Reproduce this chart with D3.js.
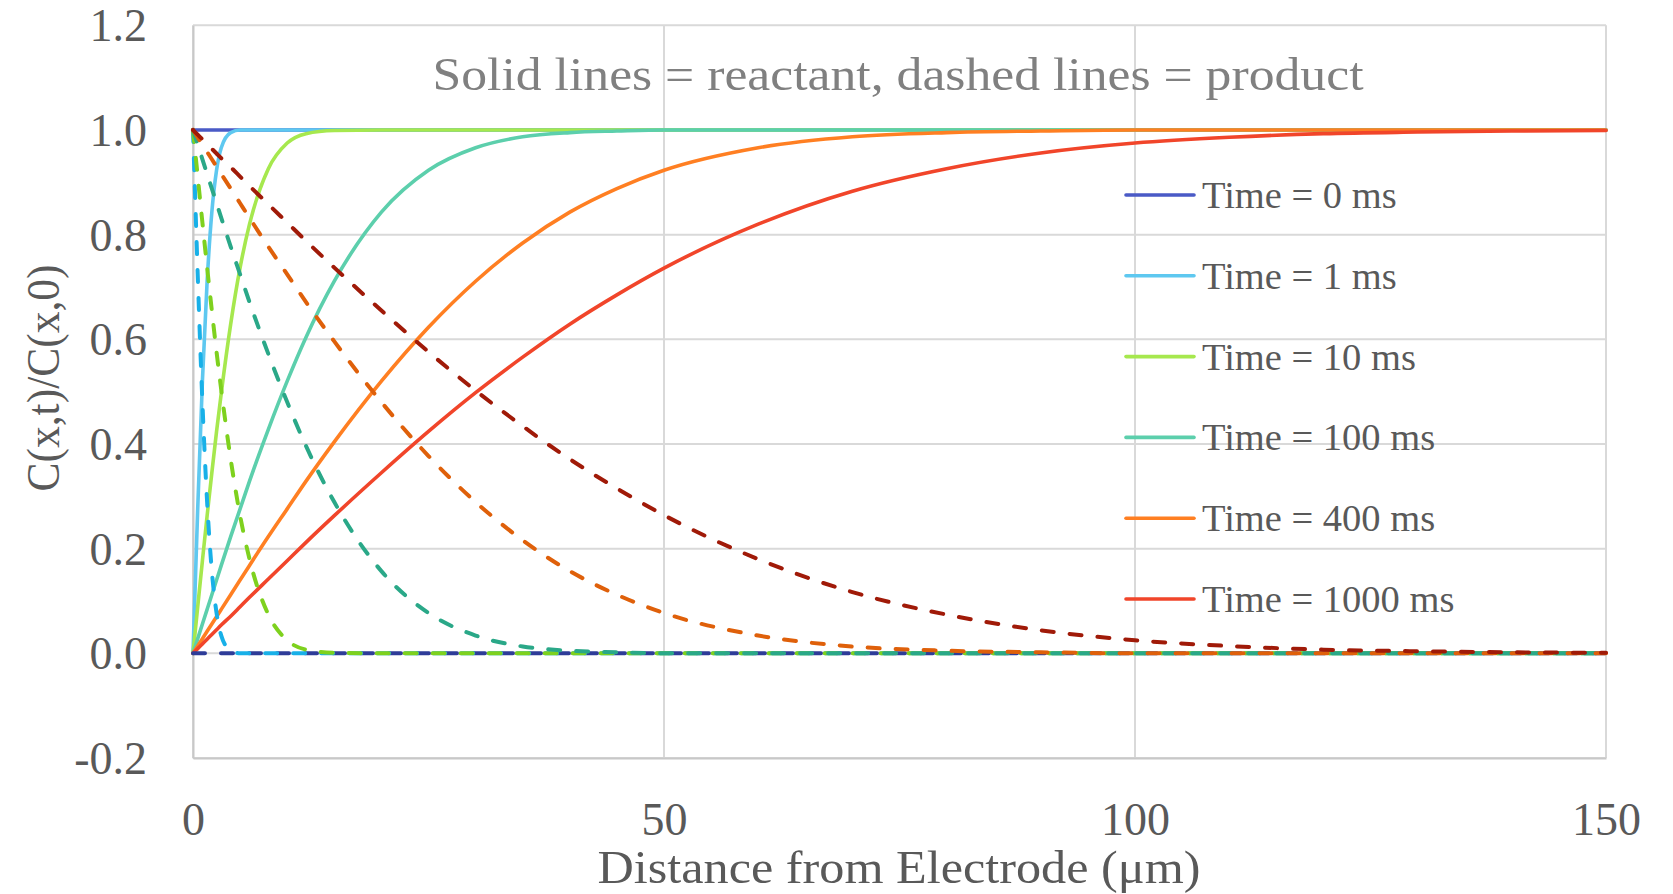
<!DOCTYPE html>
<html>
<head>
<meta charset="utf-8">
<script src="https://cdn.jsdelivr.net/npm/d3@7"></script>
<style>
  html, body { margin: 0; padding: 0; background: #ffffff; }
  svg { display: block; }
  text { font-family: "Liberation Serif", "DejaVu Serif", serif; }
</style>
</head>
<body>
<svg id="chart" width="1673" height="894"></svg>
<script>
// Distance from the electrode surface (µm) at which each profile is sampled
const distance = [0, 0.5, 1, 1.5, 2, 2.5, 3, 4, 5, 6, 8, 10, 12, 15, 20, 25, 30, 35, 40, 45, 50, 60, 70, 80, 90, 100, 110, 120, 130, 140, 150];

// Reactant concentration profiles C(x,t)/C(x,0)
const reactant0    = [1, 1, 1, 1, 1, 1, 1, 1, 1, 1, 1, 1, 1, 1, 1, 1, 1, 1, 1, 1, 1, 1, 1, 1, 1, 1, 1, 1, 1, 1, 1];
const reactant1    = [0, 0.276, 0.521, 0.711, 0.843, 0.923, 0.966, 0.995, 1, 1, 1, 1, 1, 1, 1, 1, 1, 1, 1, 1, 1, 1, 1, 1, 1, 1, 1, 1, 1, 1, 1];
const reactant10   = [0, 0.089, 0.177, 0.263, 0.345, 0.424, 0.497, 0.629, 0.737, 0.820, 0.926, 0.975, 0.993, 0.999, 1, 1, 1, 1, 1, 1, 1, 1, 1, 1, 1, 1, 1, 1, 1, 1, 1];
const reactant100  = [0, 0.028, 0.056, 0.084, 0.112, 0.140, 0.168, 0.223, 0.276, 0.329, 0.428, 0.520, 0.604, 0.711, 0.843, 0.923, 0.966, 0.987, 0.995, 0.998, 1, 1, 1, 1, 1, 1, 1, 1, 1, 1, 1];
const reactant400  = [0, 0.014, 0.028, 0.042, 0.056, 0.070, 0.084, 0.112, 0.140, 0.168, 0.223, 0.276, 0.329, 0.404, 0.520, 0.623, 0.711, 0.784, 0.843, 0.888, 0.923, 0.966, 0.987, 0.995, 0.998, 1, 1, 1, 1, 1, 1];
const reactant1000 = [0, 0.009, 0.018, 0.027, 0.036, 0.045, 0.054, 0.071, 0.089, 0.107, 0.142, 0.177, 0.212, 0.263, 0.345, 0.424, 0.498, 0.566, 0.629, 0.685, 0.736, 0.820, 0.883, 0.926, 0.956, 0.975, 0.986, 0.993, 0.996, 0.998, 0.999];

// Product concentration profiles (dashed)
const product0    = [0, 0, 0, 0, 0, 0, 0, 0, 0, 0, 0, 0, 0, 0, 0, 0, 0, 0, 0, 0, 0, 0, 0, 0, 0, 0, 0, 0, 0, 0, 0];
const product1    = [1, 0.724, 0.479, 0.289, 0.157, 0.077, 0.034, 0.005, 0, 0, 0, 0, 0, 0, 0, 0, 0, 0, 0, 0, 0, 0, 0, 0, 0, 0, 0, 0, 0, 0, 0];
const product10   = [1, 0.911, 0.823, 0.737, 0.655, 0.576, 0.503, 0.371, 0.263, 0.180, 0.074, 0.025, 0.007, 0.001, 0, 0, 0, 0, 0, 0, 0, 0, 0, 0, 0, 0, 0, 0, 0, 0, 0];
const product100  = [1, 0.972, 0.944, 0.916, 0.888, 0.860, 0.832, 0.777, 0.724, 0.671, 0.572, 0.480, 0.396, 0.289, 0.157, 0.077, 0.034, 0.013, 0.005, 0.002, 0, 0, 0, 0, 0, 0, 0, 0, 0, 0, 0];
const product400  = [1, 0.986, 0.972, 0.958, 0.944, 0.930, 0.916, 0.888, 0.860, 0.832, 0.777, 0.724, 0.671, 0.596, 0.480, 0.377, 0.289, 0.216, 0.157, 0.112, 0.077, 0.034, 0.013, 0.005, 0.002, 0, 0, 0, 0, 0, 0];
const product1000 = [1, 0.991, 0.982, 0.973, 0.964, 0.955, 0.946, 0.929, 0.911, 0.893, 0.858, 0.823, 0.788, 0.737, 0.655, 0.576, 0.502, 0.434, 0.371, 0.315, 0.264, 0.180, 0.117, 0.074, 0.044, 0.025, 0.014, 0.007, 0.004, 0.002, 0.001];

// Legend labels and tick values
const seriesNames = ["Time = 0 ms", "Time = 1 ms", "Time = 10 ms", "Time = 100 ms", "Time = 400 ms", "Time = 1000 ms"];
const xTicks = [0, 50, 100, 150];
const yTicks = [-0.2, 0, 0.2, 0.4, 0.6, 0.8, 1.0, 1.2];

const reactantSeries = [reactant0, reactant1, reactant10, reactant100, reactant400, reactant1000];
const productSeries  = [product0, product1, product10, product100, product400, product1000];

const solidColors  = ["#4a5ac6", "#5ec8f0", "#a6e84e", "#5ccfac", "#ff7f22", "#f1452a"];
const dashedColors = ["#2e3c98", "#18b0e8", "#7ed11e", "#2aa888", "#df600a", "#a01a08"];

const svg = d3.select("#chart");
const plot = { left: 193, right: 1606, top: 25.3, bottom: 758 };

const x = d3.scaleLinear().domain([0, 150]).range([plot.left, plot.right]);
const y = d3.scaleLinear().domain([-0.2, 1.2]).range([plot.bottom, plot.top]);

// Gridlines
const grid = svg.append("g");
grid.selectAll("line.h").data(yTicks).join("line")
  .attr("x1", plot.left).attr("x2", plot.right)
  .attr("y1", d => y(d)).attr("y2", d => y(d))
  .attr("stroke", "#d9d9d9").attr("stroke-width", 2);
grid.selectAll("line.v").data(xTicks).join("line")
  .attr("y1", plot.top).attr("y2", plot.bottom)
  .attr("x1", d => x(d)).attr("x2", d => x(d))
  .attr("stroke", "#d9d9d9").attr("stroke-width", 2);

// Axes
const yAxis = d3.axisLeft(y).tickValues(yTicks).tickSize(0).tickPadding(46)
  .tickFormat(d => d3.format(".1f")(d).replace("−", "-"));
const xAxis = d3.axisBottom(x).tickValues(xTicks).tickSize(0).tickPadding(44)
  .tickFormat(d3.format("d"));

const gy = svg.append("g").attr("transform", `translate(${plot.left},0)`).call(yAxis);
const gx = svg.append("g").attr("transform", `translate(0,${plot.bottom})`).call(xAxis);
[gy, gx].forEach(g => {
  g.select(".domain").attr("stroke", "#c8c8c8").attr("stroke-width", 2);
  g.selectAll("text").attr("fill", "#595959").attr("font-size", 46)
    .attr("font-family", "'Liberation Serif', serif");
});
gy.selectAll("text").attr("dy", "0.34em");
gx.selectAll("text").attr("dy", "0.71em");

// Lines
const line = d3.line()
  .x((d, i) => x(distance[i]))
  .y(d => y(d))
  .curve(d3.curveMonotoneX);

const lines = svg.append("g");
reactantSeries.forEach((vals, k) => {
  lines.append("path")
    .attr("d", line(vals))
    .attr("fill", "none")
    .attr("stroke", solidColors[k])
    .attr("stroke-width", 3.6)
    .attr("stroke-linejoin", "round")
    .attr("stroke-linecap", "round");
});
productSeries.forEach((vals, k) => {
  lines.append("path")
    .attr("d", line(vals))
    .attr("fill", "none")
    .attr("stroke", dashedColors[k])
    .attr("stroke-width", 4)
    .attr("stroke-dasharray", "12,16")
    .attr("stroke-linecap", "round")
    .attr("stroke-linejoin", "round");
});

// Title inside the plot
svg.append("text")
  .attr("x", 898).attr("y", 90)
  .attr("text-anchor", "middle")
  .attr("font-size", 47)
  .attr("fill", "#808080")
  .attr("textLength", 931)
  .attr("lengthAdjust", "spacingAndGlyphs")
  .text("Solid lines = reactant, dashed lines = product");

// Axis titles
svg.append("text")
  .attr("x", 899).attr("y", 883)
  .attr("text-anchor", "middle")
  .attr("font-size", 47)
  .attr("fill", "#595959")
  .attr("textLength", 603)
  .attr("lengthAdjust", "spacingAndGlyphs")
  .text("Distance from Electrode (μm)");

svg.append("text")
  .attr("transform", "translate(59,378) rotate(-90)")
  .attr("text-anchor", "middle")
  .attr("font-size", 46)
  .attr("fill", "#595959")
  .attr("textLength", 227)
  .attr("lengthAdjust", "spacingAndGlyphs")
  .text("C(x,t)/C(x,0)");

// Legend
const legendY = d3.scaleLinear().domain([0, 5]).range([195, 599]);
const legend = svg.append("g");
seriesNames.forEach((name, k) => {
  const ly = legendY(k);
  legend.append("line")
    .attr("x1", 1126).attr("x2", 1194)
    .attr("y1", ly).attr("y2", ly)
    .attr("stroke", solidColors[k])
    .attr("stroke-width", 3.6)
    .attr("stroke-linecap", "round");
  legend.append("text")
    .attr("x", 1202).attr("y", ly)
    .attr("dy", "0.34em")
    .attr("font-size", 38.5)
    .attr("fill", "#595959")
    .text(name);
});
</script>
</body>
</html>
